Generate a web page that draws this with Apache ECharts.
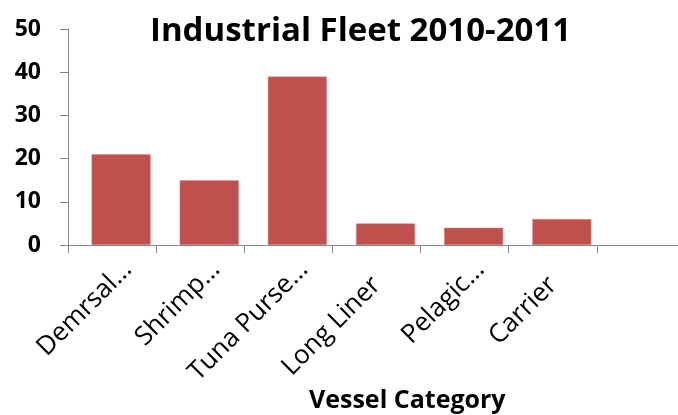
<!DOCTYPE html>
<html>
<head>
<meta charset="utf-8">
<script src="https://cdn.jsdelivr.net/npm/echarts@6/dist/echarts.min.js"></script>
<style>
    html, body { margin: 0; padding: 0; background: #fff; }
</style>
</head>
<body>
<div id="main" style="width: 678px;height:415px;"></div>
<script type="text/javascript">
    // categories (last one is empty in the original chart)
    var categories = ['Demrsal…', 'Shrimp…', 'Tuna Purse…', 'Long Liner', 'Pelagic…', 'Carrier', ''];
    var vessels = [21, 15, 39, 5, 4, 6, null];
    var yTicks = [0, 50, 10]; // min, max, interval

    var axisGrey = '#868686';
    var font = '"Open Sans", "DejaVu Sans", sans-serif';
    var labelText = {fontFamily: font, fontSize: 26, color: '#000'};

    var myChart = echarts.init(document.getElementById('main'));
    var option = {
        animation: false,
        title: [
            {
                text: 'Industrial Fleet 2010-2011',
                left: 145,
                top: 10,
                textStyle: {fontFamily: font, fontWeight: 'bold', fontSize: 33, color: '#000'}
            },
            {
                text: 'Vessel Category',
                left: 304,
                top: 383,
                textStyle: {fontFamily: font, fontWeight: 'bold', fontSize: 25, color: '#000'}
            }
        ],
        // grid 0 = visible axes, grid 1 = bars (excel draws them a bit right of the slot)
        grid: [
            {left: 68, top: 29, width: 617, height: 216, outerBoundsMode: 'none', containLabel: false},
            {left: 77, top: 29, width: 617, height: 216, outerBoundsMode: 'none', containLabel: false}
        ],
        xAxis: [
            {
                type: 'category',
                gridIndex: 0,
                data: categories,
                axisLine: {lineStyle: {color: axisGrey, width: 1}},
                axisTick: {show: true, length: 8, lineStyle: {color: axisGrey}},
                axisLabel: {
                    rotate: 45,
                    margin: 5,
                    interval: 0,
                    verticalAlign: 'top',
                    padding: [9, 0, 0, 0],
                    fontFamily: font,
                    fontSize: 26,
                    color: '#000',
                    // truncated names run a little further out, like in the original
                    formatter: function (v) {
                        return v.slice(-1) === '…' ? '{e|' + v + '}' : '{n|' + v + '}';
                    },
                    rich: {
                        e: labelText,
                        n: Object.assign({padding: [0, 22, 0, 0]}, labelText)
                    }
                }
            },
            {
                type: 'category',
                gridIndex: 1,
                data: categories,
                show: false
            }
        ],
        yAxis: [
            {
                type: 'value',
                gridIndex: 0,
                min: yTicks[0],
                max: yTicks[1],
                interval: yTicks[2],
                splitLine: {show: false},
                axisLine: {show: true, lineStyle: {color: axisGrey, width: 1}},
                axisTick: {show: true, length: 8, lineStyle: {color: axisGrey}},
                axisLabel: {
                    margin: 27,
                    fontFamily: font,
                    fontWeight: 'bold',
                    fontSize: 23,
                    color: '#000'
                }
            },
            {
                type: 'value',
                gridIndex: 1,
                min: yTicks[0],
                max: yTicks[1],
                interval: yTicks[2],
                show: false
            }
        ],
        series: [
            {
                name: 'Vessels',
                type: 'bar',
                xAxisIndex: 1,
                yAxisIndex: 1,
                data: vessels,
                barCategoryGap: '33%',
                itemStyle: {color: '#C0504D', borderColor: '#d98d8b', borderWidth: 0.5}
            }
        ]
    };
    myChart.setOption(option);
</script>
</body>
</html>
